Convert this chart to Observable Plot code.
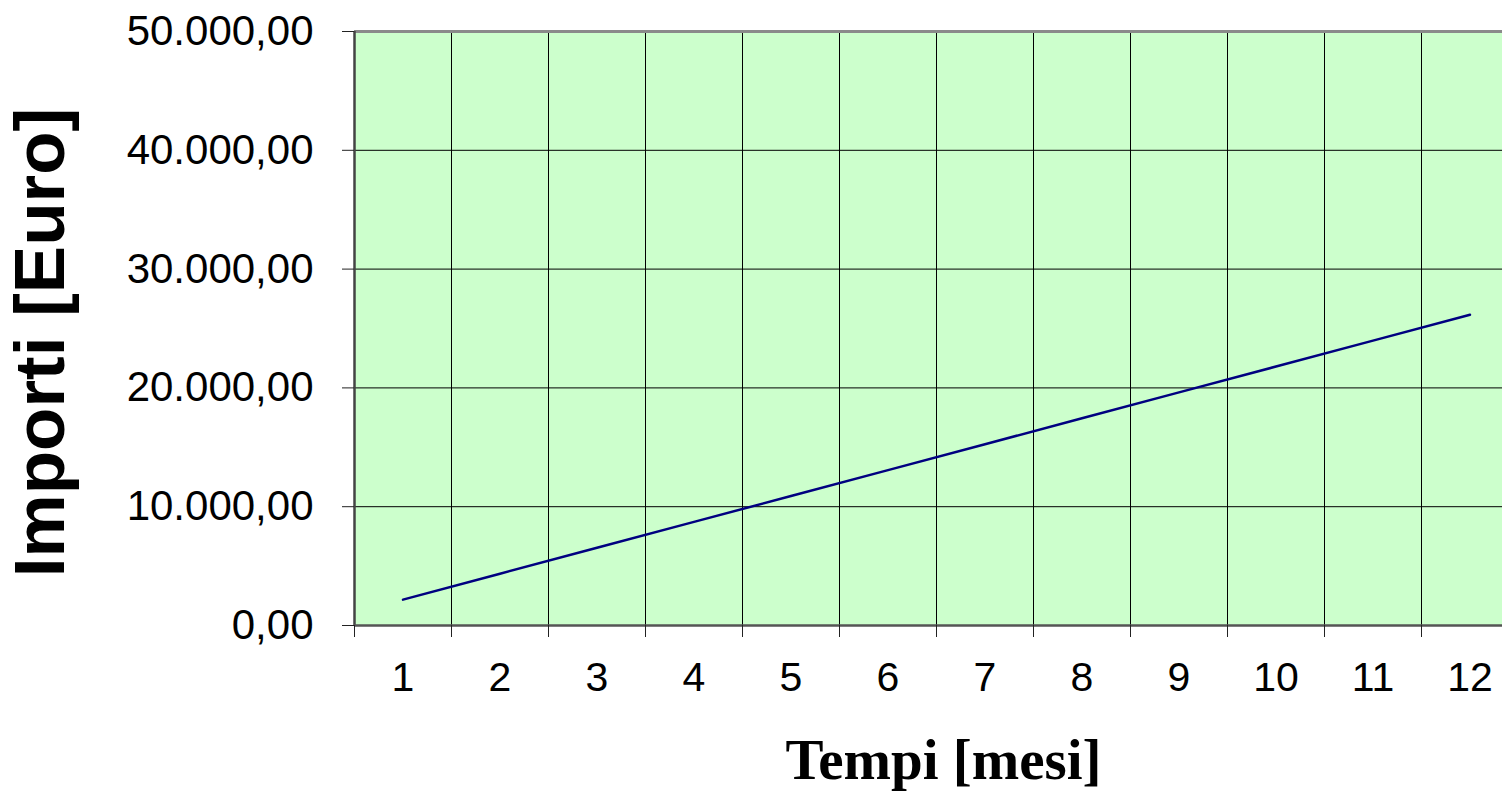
<!DOCTYPE html>
<html><head><meta charset="utf-8">
<script src="https://cdn.jsdelivr.net/npm/d3@7"></script>
<script src="https://cdn.jsdelivr.net/npm/@observablehq/plot@0.6"></script>
<style>body{margin:0;background:#fff} #chart svg{overflow:hidden}</style>
</head><body><div id="chart"></div>
<script>
const months = [1, 2, 3, 4, 5, 6, 7, 8, 9, 10, 11, 12];
const amounts = [2180, 4360, 6540, 8720, 10900, 13080, 15260, 17440, 19620, 21800, 23980, 26160];
const yTicks = [0, 10000, 20000, 30000, 40000, 50000];
const gridY = [10000, 20000, 30000, 40000];
const monthBounds = [0.5, 1.5, 2.5, 3.5, 4.5, 5.5, 6.5, 7.5, 8.5, 9.5, 10.5, 11.5, 12.5];
const yLabel = "Importi [Euro]";
const xLabel = "Tempi [mesi]";

const data = months.map((m, i) => ({month: m, amount: amounts[i]}));
const it = d3.formatLocale({decimal: ",", thousands: ".", grouping: [3], currency: ["", "€"]});
const fmt = it.format(",.2f");

const chart = Plot.plot({
  width: 1502, height: 792,
  marginLeft: 354, marginRight: -16, marginTop: 31, marginBottom: 167,
  style: {fontFamily: "'Liberation Sans', Arial, sans-serif", background: "white", overflow: "hidden", color: "black"},
  x: {type: "linear", domain: [0.5, 12.5]},
  y: {domain: [0, 50000]},
  marks: [
    Plot.frame({fill: "#ccffcc", stroke: null}),
    Plot.ruleY(gridY, {stroke: "black", strokeWidth: 1}),
    Plot.ruleX(monthBounds.slice(1, -1), {stroke: "black", strokeWidth: 1}),
    Plot.ruleY([50000], {stroke: "#8a8a8a", strokeWidth: 3}),
    Plot.ruleX([0.5], {stroke: "#444", strokeWidth: 2.5}),
    Plot.ruleY([0], {stroke: "#555", strokeWidth: 2.5}),
    Plot.axisY({ticks: yTicks, tickSize: 12, tickPadding: 29, tickFormat: fmt, fontSize: 42, label: null, stroke: "#222"}),
    Plot.axisX({ticks: monthBounds, tickSize: 12, tickFormat: () => "", label: null, stroke: "#222"}),
    Plot.axisX({ticks: months, tickSize: 0, tickPadding: 36, fontSize: 41, label: null, tickFormat: d => String(d)}),
    Plot.line(data, {x: "month", y: "amount", stroke: "#000080", strokeWidth: 2.5}),
    Plot.text([yLabel], {frameAnchor: "left", rotate: -90, dx: -313, dy: 14, text: d => d, fontSize: 71, fontWeight: "bold", textAnchor: "middle", lineAnchor: "middle", fill: "black"}),
    Plot.text([xLabel], {frameAnchor: "bottom", dx: 7, dy: 113, text: d => d, fontSize: 57, fontWeight: "bold", fontFamily: "'Liberation Serif', 'Times New Roman', serif", textAnchor: "middle", lineAnchor: "top", fill: "black"})
  ]
});
document.getElementById("chart").appendChild(chart);
</script>
</body></html>
